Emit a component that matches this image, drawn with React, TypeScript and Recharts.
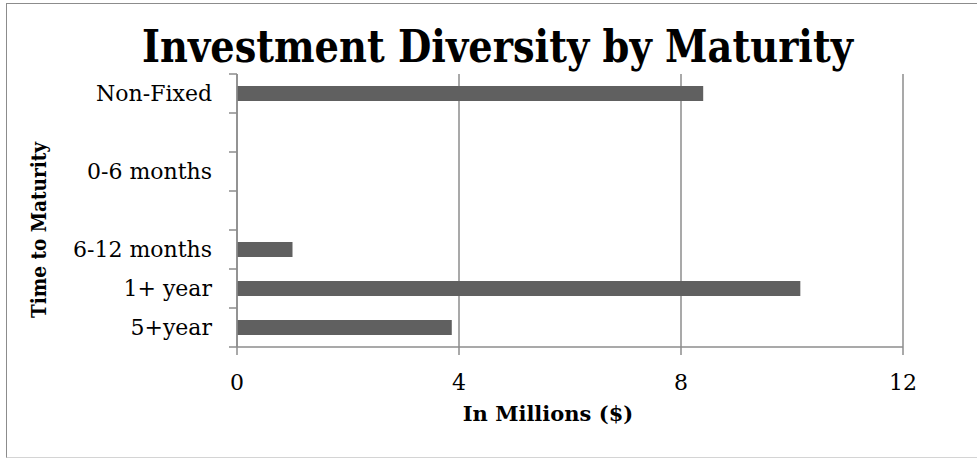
import { BarChart, Bar, XAxis, YAxis, CartesianGrid } from 'recharts';

const categories = ['Non-Fixed', '', '0-6 months', '', '6-12 months', '1+ year', '5+year'];
const amounts = [8.4, null, 0, null, 1.0, 10.15, 3.87];
const xTicks = [0, 4, 8, 12];

const TITLE = 'Investment Diversity by Maturity';
const X_TITLE = 'In Millions ($)';
const Y_TITLE = 'Time to Maturity';

const W = 977;
const H = 460;
const TOP = 74;
const X_AXIS_H = 113;
const Y_AXIS_W = 237;
const AXIS = '#8c8c8c';
const FONT = '"DejaVu Serif", serif';

const band = (H - TOP - X_AXIS_H) / categories.length;

const data = categories.map((name, i) => ({ name, value: amounts[i] }));

function CategoryTick(props: any) {
  const { x, y, payload, index } = props;
  const i = payload?.index ?? index;
  return (
    <g>
      <line x1={x - 8} x2={x} y1={y - band / 2} y2={y - band / 2} stroke={AXIS} strokeWidth={1.5} />
      {i === categories.length - 1 && (
        <line x1={x - 8} x2={x} y1={y + band / 2} y2={y + band / 2} stroke={AXIS} strokeWidth={1.5} />
      )}
      <text x={x - 25} y={y} dy="0.35em" textAnchor="end" fontFamily={FONT} fontSize={22} fill="#000">
        {payload.value}
      </text>
    </g>
  );
}

export default function App() {
  return (
    <div style={{ position: 'absolute', left: 0, top: 0, width: W, height: H, overflow: 'hidden', background: '#fff' }}>
      <div
        style={{
          position: 'absolute', left: 6, top: 3, width: 990, height: 453,
          borderTop: `1.5px solid ${AXIS}`, borderLeft: `1.5px solid ${AXIS}`, borderBottom: '1.5px solid #d4d4d4',
        }}
      />
      <BarChart
        width={W}
        height={H}
        data={data}
        layout="vertical"
        margin={{ top: TOP, right: 74, left: 0, bottom: 0 }}
        style={{ position: 'absolute', left: 0, top: 0 }}
      >
        <CartesianGrid horizontal={false} stroke={AXIS} strokeWidth={1.5} />
        <XAxis
          type="number"
          domain={[0, 12]}
          ticks={xTicks}
          height={X_AXIS_H}
          axisLine={{ stroke: AXIS, strokeWidth: 1.5 }}
          tickLine={{ stroke: AXIS, strokeWidth: 1.5 }}
          tickSize={8}
          tickMargin={19}
          tick={{ fontFamily: FONT, fontSize: 22, fill: '#000' }}
        />
        <YAxis
          type="category"
          dataKey="name"
          width={Y_AXIS_W}
          interval={0}
          axisLine={{ stroke: AXIS, strokeWidth: 1.5 }}
          tickLine={false}
          tickSize={0}
          tickMargin={0}
          tick={<CategoryTick />}
        />
        <Bar dataKey="value" fill="#606060" barSize={15} isAnimationActive={false} />
      </BarChart>
      <svg width={W} height={H} style={{ position: 'absolute', left: 0, top: 0, pointerEvents: 'none' }}>
        <text
          x={497.5}
          y={62}
          textAnchor="middle"
          fontFamily={FONT}
          fontWeight="bold"
          fontSize={45}
          textLength={711}
          lengthAdjust="spacingAndGlyphs"
        >
          {TITLE}
        </text>
        <text x={548} y={421} textAnchor="middle" fontFamily={FONT} fontWeight="bold" fontSize={21}>
          {X_TITLE}
        </text>
        <text
          x={0}
          y={0}
          transform="translate(46 230) rotate(-90)"
          textAnchor="middle"
          fontFamily={FONT}
          fontWeight="bold"
          fontSize={20}
          textLength={176}
          lengthAdjust="spacingAndGlyphs"
        >
          {Y_TITLE}
        </text>
      </svg>
    </div>
  );
}
